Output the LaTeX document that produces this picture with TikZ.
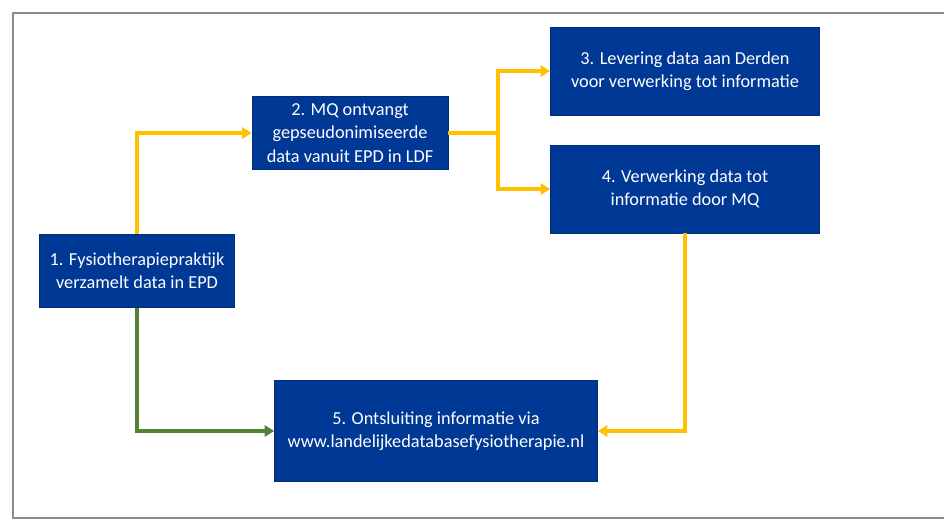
\documentclass[tikz,border=0pt]{standalone}
\usepackage{fontspec}
\setmainfont{Carlito}
\usetikzlibrary{arrows.meta}

\definecolor{mqblue}{RGB}{0,56,150}
\definecolor{mqorange}{RGB}{255,192,0}
\definecolor{mqgreen}{RGB}{84,130,53}

\begin{document}
\begin{tikzpicture}[
    x=0.025cm, y=-0.025cm,
    font=\fontsize{13}{16.5}\selectfont,
    box/.style={fill=mqblue, draw=mqblue!80!black, text=white, rectangle, align=center, inner sep=2pt},
    arrow/.style={-{Triangle[length=2.4mm,width=2.8mm]}, line width=2.2pt, mqorange},
    garrow/.style={-{Triangle[length=2.4mm,width=2.8mm]}, line width=2.2pt, mqgreen}
]
\useasboundingbox (0,0) rectangle (944,528);

% Frame
\draw[black!45, line width=0.8pt] (944,13) -- (13,13) -- (13,518) -- (944,518);

% Boxes
\node[box, minimum width=4.875cm, minimum height=1.825cm] (fys)  at (137,271)
    {1. Fysiotherapiepraktijk\\verzamelt data in EPD};
\node[box, minimum width=4.9cm, minimum height=1.825cm] (mq)   at (350,133)
    {2. MQ ontvangt\\gepseudonimiseerde\\data vanuit EPD in LDF};
\node[box, minimum width=6.725cm, minimum height=2.2cm] (lev)  at (685,71)
    {3. Levering data aan Derden\\voor verwerking tot informatie};
\node[box, minimum width=6.725cm, minimum height=2.2cm] (verw) at (685,189)
    {4. Verwerking data tot\\informatie door MQ};
\node[box, minimum width=8.075cm, minimum height=2.525cm] (ont)  at (436,431)
    {5. Ontsluiting informatie via\\www.landelijkedatabasefysiotherapie.nl};

% Split point
\coordinate (split) at (498,133);

% Arrows
\draw[arrow] (fys.north) |- (mq.west);
\draw[arrow, -] (mq.east) -- (split);
\draw[arrow] (split) |- (lev.west);
\draw[arrow] (split) |- (verw.west);
\draw[arrow] (verw.south) |- (ont.east);
\draw[garrow] (fys.south) |- (ont.west);

\end{tikzpicture}
\end{document}
